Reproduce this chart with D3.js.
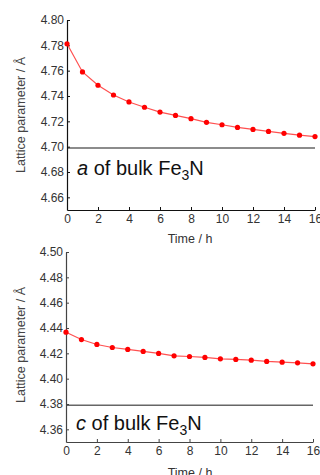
<!DOCTYPE html>
<html>
<head>
<meta charset="utf-8">
<script src="https://cdn.jsdelivr.net/npm/d3@7"></script>
<style>
  body { margin: 0; background: #fff; }
  svg { display: block; font-family: "Liberation Sans", Arial, sans-serif; }
</style>
</head>
<body>
<div id="chart"></div>
<script>
// Time in hours
const hours = [0, 1, 2, 3, 4, 5, 6, 7, 8, 9, 10, 11, 12, 13, 14, 15, 16];

// Lattice parameter a (top) and c (bottom), Å
const aValues = [4.7812, 4.759, 4.7485, 4.7408, 4.7353, 4.7311, 4.7273, 4.7247, 4.7221,
                 4.7192, 4.7173, 4.7152, 4.7136, 4.712, 4.7105, 4.7091, 4.708];
const cValues = [4.4367, 4.4309, 4.427, 4.4246, 4.4231, 4.4215, 4.4199, 4.418, 4.4175,
                 4.4168, 4.4157, 4.4152, 4.4146, 4.4136, 4.413, 4.4125, 4.4117];

// Bulk Fe3N reference values
const aBulk = 4.699;
const cBulk = 4.379;

const xTicks = [0, 2, 4, 6, 8, 10, 12, 14, 16];
const aTicks = [4.66, 4.68, 4.70, 4.72, 4.74, 4.76, 4.78, 4.80];
const cTicks = [4.36, 4.38, 4.40, 4.42, 4.44, 4.46, 4.48, 4.50];

const width = 320;
const height = 475;

const svg = d3.select("#chart")
    .append("svg")
    .attr("width", width)
    .attr("height", height);

function drawPanel(opts) {
    const data = hours.map((h, i) => ({t: h, v: opts.values[i]}));

    const x = d3.scaleLinear().domain([0, 16]).range([opts.left, opts.right]);
    const y = d3.scaleLinear().domain(opts.domain).range([opts.bottom, opts.top]);

    // reference line (bulk value)
    svg.append("line")
        .attr("x1", x(0))
        .attr("x2", x(16))
        .attr("y1", y(opts.bulk))
        .attr("y2", y(opts.bulk))
        .attr("stroke", "#666")
        .attr("stroke-width", 1.5);

    // axes
    const xAxis = svg.append("g")
        .attr("transform", `translate(0,${opts.bottom})`)
        .call(d3.axisBottom(x).tickValues(xTicks).tickSizeInner(-3).tickSizeOuter(0).tickPadding(4));
    const yAxis = svg.append("g")
        .attr("transform", `translate(${opts.left},0)`)
        .call(d3.axisLeft(y).tickValues(opts.ticks).tickFormat(d3.format(".2f"))
            .tickSizeInner(-3).tickSizeOuter(0).tickPadding(3));

    [xAxis, yAxis].forEach(g => {
        g.select(".domain").attr("stroke", opts.axisColor).attr("stroke-width", 1.2);
        g.selectAll(".tick line").attr("stroke", opts.axisColor);
        g.selectAll(".tick text")
            .attr("fill", "#333")
            .style("font-size", "12px")
            .style("font-family", "Liberation Sans, Arial, sans-serif");
    });

    // axis titles
    svg.append("text")
        .attr("x", 190)
        .attr("y", opts.xTitleY)
        .attr("text-anchor", "middle")
        .attr("fill", "#333")
        .style("font-size", "12.5px")
        .text("Time / h");

    svg.append("text")
        .attr("transform", `translate(25,${opts.yTitleY}) rotate(-90)`)
        .attr("text-anchor", "middle")
        .attr("fill", "#444")
        .style("font-size", "12.5px")
        .text("Lattice parameter / Å");

    // data line and points
    const line = d3.line()
        .x(d => x(d.t))
        .y(d => y(d.v));

    svg.append("path")
        .datum(data)
        .attr("fill", "none")
        .attr("stroke", "#ff5050")
        .attr("stroke-width", 1.2)
        .attr("d", line);

    svg.append("g")
        .selectAll("circle")
        .data(data)
        .enter()
        .append("circle")
        .attr("cx", d => x(d.t))
        .attr("cy", d => y(d.v))
        .attr("r", 2.6)
        .attr("fill", "#f00");

    // label
    const label = svg.append("text")
        .attr("x", opts.left + 10)
        .attr("y", opts.labelY)
        .attr("fill", "#111")
        .style("font-size", "20px");
    label.append("tspan").style("font-style", "italic").text(opts.name);
    label.append("tspan").text(" of bulk Fe");
    label.append("tspan").attr("dy", 5).style("font-size", "14px").text("3");
    label.append("tspan").attr("dy", -5).text("N");
}

drawPanel({
    values: aValues, bulk: aBulk, domain: [4.65, 4.80], ticks: aTicks,
    left: 67, right: 315, top: 20, bottom: 210,
    axisColor: "#111", xTitleY: 243, yTitleY: 115, labelY: 175, name: "a"
});

drawPanel({
    values: cValues, bulk: cBulk, domain: [4.35, 4.50], ticks: cTicks,
    left: 66, right: 313, top: 252, bottom: 442,
    axisColor: "#444", xTitleY: 477, yTitleY: 345, labelY: 430, name: "c"
});
</script>
</body>
</html>
